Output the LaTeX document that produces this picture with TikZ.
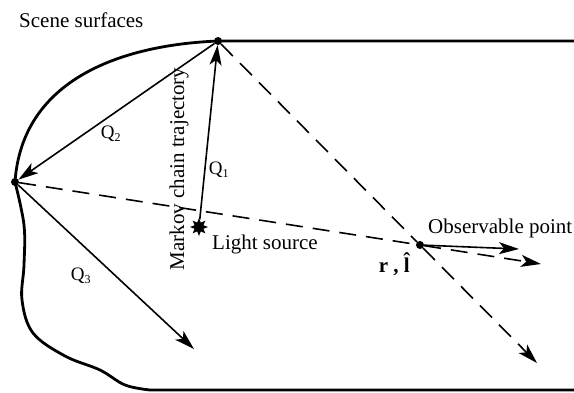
\documentclass[tikz,border=0pt]{standalone}
\usepackage{fontspec}
\setmainfont{Liberation Serif}
\usetikzlibrary{arrows.meta,shapes.geometric}
\begin{document}
\begin{tikzpicture}[x=1pt,y=-1pt,
  surf/.style={line width=2.8pt,line join=round},
  ray/.style={line width=1.6pt,-{Stealth[length=20pt,width=12pt,inset=5pt]}},
  dray/.style={ray,dash pattern=on 17pt off 10pt},
  dline/.style={line width=1.6pt,dash pattern=on 17pt off 10pt},
  dot/.style={circle,fill=black,inner sep=0pt,minimum size=8pt},
  lbl/.style={font=\fontsize{21}{24}\selectfont,inner sep=0pt},
  qlbl/.style={font=\fontsize{19}{22}\selectfont,inner sep=0pt}]
\useasboundingbox (0,0) rectangle (574,392);
% points
\node[dot] (p1) at (218,41) {};
\node[dot] (p2) at (15,182) {};
\node[dot] (obs) at (420,245) {};
\node[star,star points=8,star point ratio=1.9,fill=black,inner sep=0pt,minimum size=18pt] (ls) at (199,227) {};
\coordinate (e1) at (519,249);
\coordinate (e2) at (541,264);
\coordinate (e3) at (537,363);
\coordinate (e4) at (194,349);
\coordinate (tr) at (574,41);
\coordinate (br) at (574,390);
% scene surfaces
\draw[surf] (tr) -- (p1.center) .. controls (120,45) and (22,80) .. (p2.center);
\draw[surf] plot[smooth,tension=0.6] coordinates {(15,182) (24,225) (24,265) (22,300) (33,333) (65,356) (100,370) (125,385) (150,390)} -- (br);
% rays
\draw[ray] (ls) -- (p1);
\draw[ray] (p1) -- (p2);
\draw[ray] (p2) -- (e4);
\draw[ray] (obs) -- (e1);
\draw[dline] (p2) -- (obs);
\draw[dray] (obs) -- (e2);
\draw[dline] (p1) -- (obs);
\draw[dray] (obs) -- (e3);
% labels
\node[lbl,anchor=base west] (t1) at (19,27) {Scene surfaces};
\node[lbl,anchor=base west] (t2) at (212,249) {Light source};
\node[lbl,anchor=base west] (t3) at (428,233) {Observable point};
\node[lbl,rotate=90] (t4) at (179,169) {Markov chain trajectory};
\node[lbl,anchor=base] (t5) at (396,272) {\textbf{r , \^{l}}};
\node[qlbl] (q1) at (219,170) {Q\textsubscript{\fontsize{12}{13}\selectfont 1}};
\node[qlbl] (q2) at (111,134) {Q\textsubscript{\fontsize{12}{13}\selectfont 2}};
\node[qlbl] (q3) at (81,276) {Q\textsubscript{\fontsize{12}{13}\selectfont 3}};
\end{tikzpicture}
\end{document}
